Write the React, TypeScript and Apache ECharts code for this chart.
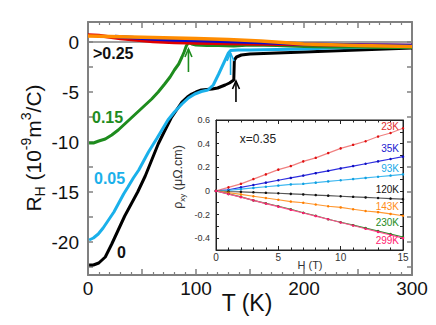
import React, { useEffect, useRef } from "react";
import * as echarts from "echarts";

// ---------- main panel data: Hall coefficient vs temperature ----------
const T_X0 = [1, 5, 10, 16, 22, 28, 34, 40, 46, 53, 59, 65, 70, 77, 82, 87, 92, 96, 100, 105, 110, 115, 120, 127, 131, 135, 135.5, 137.5, 142, 150, 175, 200, 225, 250, 275, 300];
const R_X0 = [-22.3, -22.3, -22.1, -21.5, -20.2, -18.8, -17.4, -16.2, -15.0, -13.4, -11.8, -10.2, -9.1, -7.6, -6.8, -6.0, -5.5, -5.2, -5.0, -4.8, -4.75, -4.7, -4.6, -4.3, -4.1, -3.8, -1.8, -1.5, -1.3, -1.2, -1.1, -1.0, -0.9, -0.8, -0.7, -0.6];

const T_X005 = [1, 5, 9.5, 14, 19, 24, 28, 33, 37, 42, 47, 52, 56, 60, 64, 69, 74, 80, 87, 93, 99, 105, 111, 116, 121, 124, 127, 130, 132, 139, 150, 175, 200, 225, 250, 275, 300];
const R_X005 = [-19.8, -19.6, -19.2, -18.6, -17.8, -17.0, -16.2, -15.2, -14.5, -13.6, -12.8, -11.8, -11.0, -10.3, -9.6, -8.7, -7.8, -7.0, -6.2, -5.6, -5.2, -4.95, -4.8, -4.3, -3.2, -2.5, -1.8, -1.1, -0.85, -0.8, -0.8, -0.75, -0.7, -0.6, -0.55, -0.5, -0.45];

const T_X015 = [1, 5, 10, 16, 22, 28, 35, 43, 50, 59, 65, 71, 76, 80, 84, 87, 89, 91, 93, 96, 100, 110, 121, 135, 150, 175, 200, 225, 250, 275, 300];
const R_X015 = [-10.1, -10.1, -9.9, -9.7, -9.3, -8.8, -8.1, -7.3, -6.6, -5.7, -5.0, -4.2, -3.5, -2.8, -2.2, -1.5, -1.0, -0.4, -0.05, -0.2, -0.3, -0.35, -0.35, -0.4, -0.3, -0.35, -0.45, -0.5, -0.5, -0.55, -0.55];

const T_RED = [0, 10, 20, 30, 45, 60, 80, 100, 130, 160, 200, 250, 300];
const R_RED = [0.7, 0.65, 0.5, 0.35, 0.2, 0.05, -0.05, -0.1, -0.15, -0.2, -0.25, -0.3, -0.35];

const T_BLUE = [25, 40, 60, 80, 100, 130, 160, 200, 250, 300];
const R_BLUE = [0.55, 0.45, 0.3, 0.2, 0.15, 0.05, -0.05, -0.2, -0.3, -0.35];

const T_ORANGE = [0, 20, 40, 60, 80, 100, 130, 160, 200, 250, 300];
const R_ORANGE = [0.6, 0.55, 0.5, 0.45, 0.4, 0.35, 0.25, 0.1, -0.2, -0.35, -0.45];

// arrows marking the transitions
const ARROW_T = [93, 132, 137];
const ARROW_FROM = [-3.0, -3.3, -6.0];
const ARROW_TO = [-0.7, -1.1, -3.9];

// main tick labels
const MAIN_X_LABELS = [0, 100, 200, 300];
const MAIN_Y_LABELS = [-20, -15, -10, -5, 0];
const MAIN_Y_TICKS = [-22.5, -20, -17.5, -15, -12.5, -10, -7.5, -5, -2.5, 0];

// ---------- inset data: rho_xy vs H, x = 0.35 ----------
const H = [0, 1, 2, 3, 4, 5, 6, 7, 8, 9, 10, 11, 12, 13, 14, 15];
const RHO_23K = [0, 0.03, 0.06, 0.1, 0.14, 0.18, 0.21, 0.25, 0.28, 0.32, 0.36, 0.39, 0.42, 0.46, 0.49, 0.53];
const RHO_35K = [0, 0.01, 0.03, 0.05, 0.07, 0.09, 0.11, 0.13, 0.15, 0.17, 0.19, 0.21, 0.23, 0.25, 0.27, 0.29];
const RHO_93K = [0, 0.005, 0.015, 0.025, 0.035, 0.045, 0.055, 0.06, 0.07, 0.08, 0.09, 0.1, 0.11, 0.12, 0.13, 0.14];
const RHO_120K = [0, -0.005, -0.008, -0.012, -0.016, -0.02, -0.025, -0.03, -0.035, -0.04, -0.045, -0.05, -0.055, -0.06, -0.065, -0.07];
const RHO_143K = [0, -0.015, -0.03, -0.045, -0.06, -0.075, -0.09, -0.1, -0.115, -0.13, -0.14, -0.155, -0.17, -0.18, -0.195, -0.21];
const RHO_230K = [0, -0.025, -0.05, -0.08, -0.105, -0.13, -0.155, -0.185, -0.21, -0.24, -0.265, -0.29, -0.315, -0.34, -0.365, -0.39];
const RHO_299K = [0, -0.027, -0.053, -0.08, -0.107, -0.133, -0.16, -0.187, -0.213, -0.24, -0.267, -0.293, -0.32, -0.347, -0.373, -0.4];
const INSET_TEMPS = ["23K", "35K", "93K", "120K", "143K", "230K", "299K"];
const INSET_X_LABELS = [0, 5, 10, 15];
const INSET_Y_LABELS = [-0.4, -0.2, 0, 0.2, 0.4, 0.6];
const INSET_Y_TICKS = [-0.5, -0.4, -0.3, -0.2, -0.1, 0, 0.1, 0.2, 0.3, 0.4, 0.5, 0.6];

const FONT = "Liberation Sans, Arial, sans-serif";
const FRAME = "#808080";

function zip(a: number[], b: number[]) {
  return a.map((v, i) => [v, b[i]]);
}

export default function App() {
  const ref = useRef<HTMLDivElement>(null);

  useEffect(() => {
    if (!ref.current) return;
    const chart = echarts.init(ref.current, undefined, { renderer: "svg" });

    const mainLine = (name: string, t: number[], r: number[], color: string, w = 3) => ({
      name,
      type: "line",
      xAxisIndex: 0,
      yAxisIndex: 0,
      data: zip(t, r),
      symbol: "none",
      lineStyle: { color, width: w },
      itemStyle: { color },
      z: 3,
    });

    const insetLine = (t: number[], r: number[], lineColor: string, dotColor: string) => ({
      type: "line",
      xAxisIndex: 2,
      yAxisIndex: 2,
      data: zip(t, r),
      symbol: "circle",
      symbolSize: 2.5,
      showSymbol: true,
      lineStyle: { color: lineColor, width: 1.2 },
      itemStyle: { color: dotColor },
      z: 5,
    });

    const arrowColors = ["#1e8c1e", "#18aee8", "#000000"];

    const insetColors = ["#e03030", "#2020d0", "#20a8e8", "#111111", "#ff8c1a", "#1e8c1e", "#ff1a70"];
    const insetLabelY = [126, 148, 168, 189, 206, 222, 240];

    const option: any = {
      animation: false,
      textStyle: { fontFamily: FONT },
      grid: [
        { left: 88, right: 24, top: 22, bottom: 50, outerBoundsMode: "none" },
        {
          left: 216, right: 33, top: 120, bottom: 75, show: true,
          backgroundColor: "#ffffff", borderColor: "#222", borderWidth: 1, z: 4,
          outerBoundsMode: "none",
        },
      ],
      xAxis: [
        {
          gridIndex: 0, type: "value", min: 0, max: 300, interval: 50, position: "bottom",
          axisLine: { onZero: false, lineStyle: { color: FRAME, width: 2 } },
          axisTick: { inside: true, length: 6, lineStyle: { color: FRAME, width: 1.5 } },
          minorTick: { show: true, splitNumber: 5, length: 3, lineStyle: { color: FRAME, width: 1.2 } },
          axisLabel: {
            fontSize: 19, color: "#111", margin: 4,
            customValues: MAIN_X_LABELS,
          },
          splitLine: { show: false },
        },
        {
          gridIndex: 0, type: "value", min: 0, max: 300, interval: 50, position: "top",
          axisLine: { onZero: false, lineStyle: { color: FRAME, width: 2 } },
          axisTick: { inside: true, length: 6, lineStyle: { color: FRAME, width: 1.5 } },
          minorTick: { show: true, splitNumber: 5, length: 3, lineStyle: { color: FRAME, width: 1.2 } },
          axisLabel: { show: false },
          splitLine: { show: false },
        },
        {
          gridIndex: 1, type: "value", min: 0, max: 15, interval: 5, position: "bottom",
          axisLine: { onZero: false, lineStyle: { color: "#222", width: 1 } },
          axisTick: { inside: true, length: 4, lineStyle: { color: "#222" } },
          minorTick: { show: true, splitNumber: 5, length: 2.5, lineStyle: { color: "#222" } },
          axisLabel: { fontSize: 10, color: "#333", margin: 2, customValues: INSET_X_LABELS },
          splitLine: { show: false },
          z: 5,
        },
        {
          gridIndex: 1, type: "value", min: 0, max: 15, interval: 5, position: "top",
          axisLine: { onZero: false, lineStyle: { color: "#222", width: 1 } },
          axisTick: { inside: true, length: 4, lineStyle: { color: "#222" } },
          minorTick: { show: true, splitNumber: 5, length: 2.5, lineStyle: { color: "#222" } },
          axisLabel: { show: false },
          splitLine: { show: false },
          z: 5,
        },
      ],
      yAxis: [
        {
          gridIndex: 0, type: "value", min: -23.3, max: 2, position: "left",
          axisLine: { onZero: false, lineStyle: { color: FRAME, width: 2 } },
          axisTick: { inside: true, length: 5, customValues: MAIN_Y_TICKS, lineStyle: { color: FRAME, width: 1.5 } },
          axisLabel: { fontSize: 19, color: "#111", margin: 9, customValues: MAIN_Y_LABELS },
          splitLine: { show: false },
        },
        {
          gridIndex: 0, type: "value", min: -23.3, max: 2, position: "right",
          axisLine: { onZero: false, lineStyle: { color: FRAME, width: 2 } },
          axisTick: { inside: true, length: 5, customValues: MAIN_Y_TICKS, lineStyle: { color: FRAME, width: 1.5 } },
          axisLabel: { show: false },
          splitLine: { show: false },
        },
        {
          gridIndex: 1, type: "value", min: -0.5, max: 0.6, position: "left",
          axisLine: { onZero: false, lineStyle: { color: "#222", width: 1 } },
          axisTick: { inside: true, length: 3, customValues: INSET_Y_TICKS, lineStyle: { color: "#222" } },
          axisLabel: {
            fontSize: 9, color: "#333", margin: 6, customValues: INSET_Y_LABELS,
            formatter: (v: number) => (Math.abs(v) < 1e-9 ? "0" : v.toFixed(1)),
          },
          splitLine: { show: false },
          z: 5,
        },
        {
          gridIndex: 1, type: "value", min: -0.5, max: 0.6, position: "right",
          axisLine: { onZero: false, lineStyle: { color: "#222", width: 1 } },
          axisTick: { inside: true, length: 3, customValues: INSET_Y_TICKS, lineStyle: { color: "#222" } },
          axisLabel: { show: false },
          splitLine: { show: false },
          z: 5,
        },
      ],
      series: [
        {
          type: "line", xAxisIndex: 0, yAxisIndex: 0, data: [[0, 0], [300, 0]],
          symbol: "none", lineStyle: { color: FRAME, width: 1.5 }, z: 2,
        },
        mainLine("x=0", T_X0, R_X0, "#000000"),
        mainLine("x=0.05", T_X005, R_X005, "#1ab0ea"),
        mainLine("x=0.15", T_X015, R_X015, "#1e8c1e"),
        mainLine("red", T_RED, R_RED, "#e00000", 3.5),
        mainLine("blue", T_BLUE, R_BLUE, "#0a0ad0", 3.5),
        mainLine("orange", T_ORANGE, R_ORANGE, "#ff8c00", 3.5),
        {
          type: "custom",
          xAxisIndex: 0,
          yAxisIndex: 0,
          z: 6,
          data: ARROW_T.map((t, i) => [t, ARROW_FROM[i], ARROW_TO[i], i]),
          encode: { x: 0, y: [1, 2] },
          renderItem: (_p: any, api: any) => {
            const t = api.value(0);
            const p0 = api.coord([t, api.value(1)]);
            const p1 = api.coord([t, api.value(2)]);
            const c = arrowColors[api.value(3)];
            return {
              type: "group",
              children: [
                { type: "line", shape: { x1: p0[0], y1: p0[1], x2: p1[0], y2: p1[1] }, style: { stroke: c, lineWidth: 1.6 } },
                {
                  type: "polyline",
                  shape: { points: [[p1[0] - 3.5, p1[1] + 8], [p1[0], p1[1]], [p1[0] + 3.5, p1[1] + 8]] },
                  style: { stroke: c, lineWidth: 1.6, fill: "none" },
                },
              ],
            };
          },
        },
        insetLine(H, RHO_23K, "#f08080", "#e01010"),
        insetLine(H, RHO_35K, "#3030e0", "#1010c0"),
        insetLine(H, RHO_93K, "#40b8f0", "#10a0e0"),
        insetLine(H, RHO_120K, "#555555", "#111111"),
        insetLine(H, RHO_143K, "#ff9933", "#ff7f00"),
        insetLine(H, RHO_230K, "#2a8a2a", "#1a7a1a"),
        insetLine(H, RHO_299K, "#ff5090", "#ff1a70"),
      ],
      graphic: [
        {
          type: "text", x: 33, y: 148, rotation: Math.PI / 2, z: 10,
          style: {
            text: "{m|R}{s|H}{m| (10}{u|-9}{m|m}{u|3}{m|/C)}",
            align: "center", verticalAlign: "middle",
            rich: {
              m: { fontSize: 21, fontFamily: FONT, fill: "#111", lineHeight: 28 },
              s: { fontSize: 14, fontFamily: FONT, fill: "#111", verticalAlign: "bottom" },
              u: { fontSize: 14, fontFamily: FONT, fill: "#111", verticalAlign: "top" },
            },
          },
        },
        {
          type: "text", x: 247, y: 303, z: 10,
          style: { text: "T (K)", fontSize: 23, fontFamily: FONT, fill: "#111", align: "center", verticalAlign: "middle" },
        },
        {
          type: "text", x: 93, y: 53, z: 10,
          style: { text: ">0.25", fontSize: 16, fontWeight: "bold", fontFamily: FONT, fill: "#111", align: "left", verticalAlign: "middle" },
        },
        {
          type: "text", x: 92, y: 117, z: 10,
          style: { text: "0.15", fontSize: 16, fontWeight: "bold", fontFamily: FONT, fill: "#1e8c1e", align: "left", verticalAlign: "middle" },
        },
        {
          type: "text", x: 94, y: 178, z: 10,
          style: { text: "0.05", fontSize: 16, fontWeight: "bold", fontFamily: FONT, fill: "#1ab0ea", align: "left", verticalAlign: "middle" },
        },
        {
          type: "text", x: 117, y: 252, z: 10,
          style: { text: "0", fontSize: 16, fontWeight: "bold", fontFamily: FONT, fill: "#111", align: "left", verticalAlign: "middle" },
        },
        {
          type: "text", x: 258, y: 139, z: 10,
          style: { text: "x=0.35", fontSize: 12, fontFamily: FONT, fill: "#222", align: "center", verticalAlign: "middle" },
        },
        {
          type: "text", x: 310, y: 265, z: 10,
          style: { text: "H (T)", fontSize: 11, fontFamily: FONT, fill: "#333", align: "center", verticalAlign: "middle" },
        },
        {
          type: "text", x: 178, y: 177, rotation: Math.PI / 2, z: 10,
          style: {
            text: "{m|ρ}{s|xy}{m| (μΩ.cm)}",
            align: "center", verticalAlign: "middle",
            rich: {
              m: { fontSize: 12.5, fontFamily: FONT, fill: "#333", lineHeight: 16 },
              s: { fontSize: 8, fontFamily: FONT, fill: "#333", verticalAlign: "bottom" },
            },
          },
        },
        ...INSET_TEMPS.map((t, i) => ({
          type: "text", x: 399, y: insetLabelY[i], z: 10,
          style: { text: t, fontSize: 10, fontFamily: FONT, fill: insetColors[i], align: "right", verticalAlign: "middle" },
        })),
      ],
    };

    chart.setOption(option);
    return () => chart.dispose();
  }, []);

  return <div ref={ref} style={{ position: "absolute", left: 0, top: 0, width: 436, height: 325 }} />;
}
